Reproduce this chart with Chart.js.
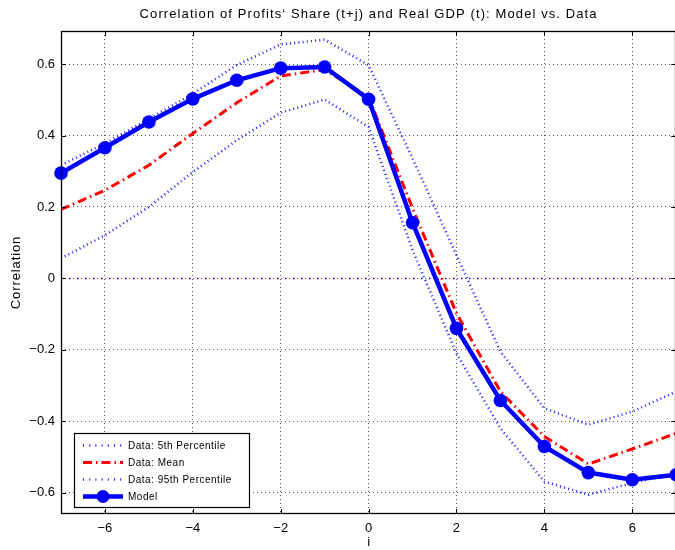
<!DOCTYPE html>
<html>
<head>
<meta charset="utf-8">
<title>Correlation of Profits Share and Real GDP</title>
<script src="https://cdn.jsdelivr.net/npm/chart.js@4.4.0/dist/chart.umd.min.js"></script>
<style>
    html, body { margin: 0; padding: 0; background: #fff; overflow: hidden; }
</style>
</head>
<body>
<canvas id="corrChart" width="683" height="550"></canvas>
<script>
// --- DATA ---
const lags = [-7, -6, -5, -4, -3, -2, -1, 0, 1, 2, 3, 4, 5, 6, 7];
const modelCorr = [0.295, 0.366, 0.438, 0.503, 0.555, 0.589, 0.592, 0.502, 0.156, -0.140, -0.342, -0.471, -0.544, -0.564, -0.550];
const meanCorr  = [0.193, 0.247, 0.317, 0.406, 0.492, 0.567, 0.585, 0.508, 0.196, -0.098, -0.317, -0.443, -0.520, -0.478, -0.434];
const p5Corr    = [0.056, 0.121, 0.200, 0.298, 0.387, 0.464, 0.501, 0.424, 0.079, -0.210, -0.420, -0.569, -0.606, -0.573, -0.545];
const p95Corr   = [0.317, 0.378, 0.447, 0.517, 0.598, 0.655, 0.669, 0.597, 0.336, 0.065, -0.205, -0.364, -0.410, -0.373, -0.317];
const zeroLine  = [0, 0, 0, 0, 0, 0, 0, 0, 0, 0, 0, 0, 0, 0, 0];

const xTickValues = [-6, -4, -2, 0, 2, 4, 6];
const yTickValues = [-0.6, -0.4, -0.2, 0, 0.2, 0.4, 0.6];
const legendLabels = ["Data: 5th Percentile", "Data: Mean", "Data: 95th Percentile", "Model"];
const chartTitle = "Correlation of Profits\u2018 Share (t+j) and Real GDP (t): Model vs. Data";
const yTitle = "Correlation";

const FONT = "Liberation Sans, Arial, Helvetica, sans-serif";
const BLUE = "#0000ff";
const RED = "#ff0000";
const DOT_BLUE = "rgba(0,0,255,0.9)";

function toPoints(values) {
    return lags.map((x, i) => ({ x: x, y: values[i] }));
}

function fmt(v, digits) {
    if (Math.abs(v) < 1e-9) return "0";
    return (v < 0 ? "\u2212" : "") + Math.abs(v).toFixed(digits);
}

// --- TITLES (drawn with a bit of letter spacing like the matlab export) ---
const titles = {
    id: "titles",
    afterDraw(chart) {
        const { ctx, chartArea: a } = chart;
        ctx.save();
        ctx.fillStyle = "#000";
        ctx.textAlign = "center";
        ctx.textBaseline = "middle";
        ctx.letterSpacing = "1.1px";
        ctx.font = "13px " + FONT;
        ctx.fillText(chartTitle, (a.left + a.right) / 2, 14);
        ctx.letterSpacing = "0.9px";
        ctx.translate(16, (a.top + a.bottom) / 2);
        ctx.rotate(-Math.PI / 2);
        ctx.fillText(yTitle, 0, 0);
        ctx.restore();
    }
};

// --- FRAME + INWARD TICKS ---
const frameTicks = {
    id: "frameTicks",
    afterDatasetsDraw(chart) {
        const { ctx, chartArea: a, scales } = chart;
        ctx.save();
        ctx.strokeStyle = "#000";
        ctx.lineWidth = 1;
        ctx.beginPath();
        xTickValues.forEach(v => {
            const px = Math.round(scales.x.getPixelForValue(v)) + 0.5;
            ctx.moveTo(px, a.bottom); ctx.lineTo(px, a.bottom - 5);
            ctx.moveTo(px, a.top); ctx.lineTo(px, a.top + 5);
        });
        yTickValues.forEach(v => {
            const py = Math.round(scales.y.getPixelForValue(v)) + 0.5;
            ctx.moveTo(a.left, py); ctx.lineTo(a.left + 5, py);
            ctx.moveTo(a.right, py); ctx.lineTo(a.right - 5, py);
        });
        ctx.stroke();
        ctx.lineWidth = 1.3;
        ctx.strokeRect(Math.round(a.left) + 0.5, Math.round(a.top) + 0.5, Math.round(a.width) - 1, Math.round(a.height) - 1);
        ctx.restore();
    }
};

// --- LEGEND BOX INSIDE AXES ---
const insideLegend = {
    id: "insideLegend",
    afterDraw(chart) {
        const { ctx, chartArea: a } = chart;
        const bx = a.left + 13, bw = 175, bh = 74;
        const by = a.bottom - 7 - bh;
        ctx.save();
        ctx.fillStyle = "#fff";
        ctx.fillRect(bx, by, bw, bh);
        ctx.strokeStyle = "#000";
        ctx.lineWidth = 1.2;
        ctx.strokeRect(bx + 0.5, by + 0.5, bw, bh);

        const styles = [
            { color: DOT_BLUE, width: 2.5, dash: [1, 5.2] },
            { color: RED, width: 3, dash: [9, 4, 1.5, 4] },
            { color: DOT_BLUE, width: 2.5, dash: [1, 5.2] },
            { color: BLUE, width: 4.5, dash: [], marker: true }
        ];
        const x0 = bx + 9, x1 = bx + 49;
        ctx.font = "10px " + FONT;
        ctx.letterSpacing = "0.5px";
        ctx.textBaseline = "middle";
        legendLabels.forEach((label, i) => {
            const y = by + 12.5 + i * 17;
            const s = styles[i];
            ctx.beginPath();
            ctx.setLineDash(s.dash);
            ctx.strokeStyle = s.color;
            ctx.lineWidth = s.width;
            ctx.moveTo(x0, y); ctx.lineTo(x1, y);
            ctx.stroke();
            ctx.setLineDash([]);
            if (s.marker) {
                ctx.beginPath();
                ctx.fillStyle = BLUE;
                ctx.arc((x0 + x1) / 2, y, 6.5, 0, Math.PI * 2);
                ctx.fill();
            }
            ctx.fillStyle = "#000";
            ctx.fillText(label, x1 + 5, y + 0.5);
        });
        ctx.restore();
    }
};

const ctx = document.getElementById("corrChart");
new Chart(ctx, {
    type: "line",
    data: {
        datasets: [
            {
                label: "Model",
                data: toPoints(modelCorr),
                borderColor: BLUE,
                backgroundColor: BLUE,
                borderWidth: 4.5,
                pointRadius: 6.8,
                pointBorderWidth: 0,
                pointBackgroundColor: BLUE,
                tension: 0,
                clip: false,
                order: 0
            },
            {
                label: "Data: Mean",
                data: toPoints(meanCorr),
                borderColor: RED,
                borderWidth: 3,
                borderDash: [9, 4, 1.5, 4],
                pointRadius: 0,
                tension: 0,
                order: 1
            },
            {
                label: "Data: 5th Percentile",
                data: toPoints(p5Corr),
                borderColor: DOT_BLUE,
                borderWidth: 2.5,
                borderDash: [1, 3.2],
                pointRadius: 0,
                tension: 0,
                order: 2
            },
            {
                label: "Data: 95th Percentile",
                data: toPoints(p95Corr),
                borderColor: DOT_BLUE,
                borderWidth: 2.5,
                borderDash: [1, 3.2],
                pointRadius: 0,
                tension: 0,
                order: 3
            },
            {
                label: "zero",
                data: toPoints(zeroLine),
                borderColor: BLUE,
                borderWidth: 1.5,
                borderDash: [1.5, 6.5],
                pointRadius: 0,
                tension: 0,
                order: 4
            }
        ]
    },
    options: {
        responsive: false,
        animation: false,
        events: [],
        layout: { padding: { right: 2, left: 0, top: 31, bottom: 0 } },
        plugins: {
            legend: { display: false },
            tooltip: { enabled: false },
            title: { display: false }
        },
        scales: {
            x: {
                type: "linear",
                min: -7,
                max: 7,
                afterBuildTicks: s => { s.ticks = xTickValues.map(v => ({ value: v })); },
                afterFit: s => { s.height = 36; s.paddingLeft = 0; s.paddingRight = 0; },
                grid: { color: "#555", lineWidth: 1, drawTicks: false },
                border: { display: false, dash: [1, 3] },
                ticks: {
                    color: "#000",
                    padding: 7,
                    font: { family: FONT, size: 13 },
                    callback: v => fmt(v, 0)
                },
                title: {
                    display: true,
                    text: "i",
                    color: "#000",
                    font: { family: FONT, size: 13 },
                    padding: 0
                }
            },
            y: {
                type: "linear",
                min: -0.66,
                max: 0.693,
                afterBuildTicks: s => { s.ticks = yTickValues.map(v => ({ value: v })); },
                afterFit: s => { s.width = 61; s.paddingTop = 0; s.paddingBottom = 0; },
                grid: { color: "#555", lineWidth: 1, drawTicks: false },
                border: { display: false, dash: [1, 3] },
                ticks: {
                    color: "#000",
                    padding: 6,
                    font: { family: FONT, size: 13 },
                    callback: v => fmt(v, 1)
                }
            }
        }
    },
    plugins: [frameTicks, insideLegend, titles]
});
</script>
</body>
</html>
